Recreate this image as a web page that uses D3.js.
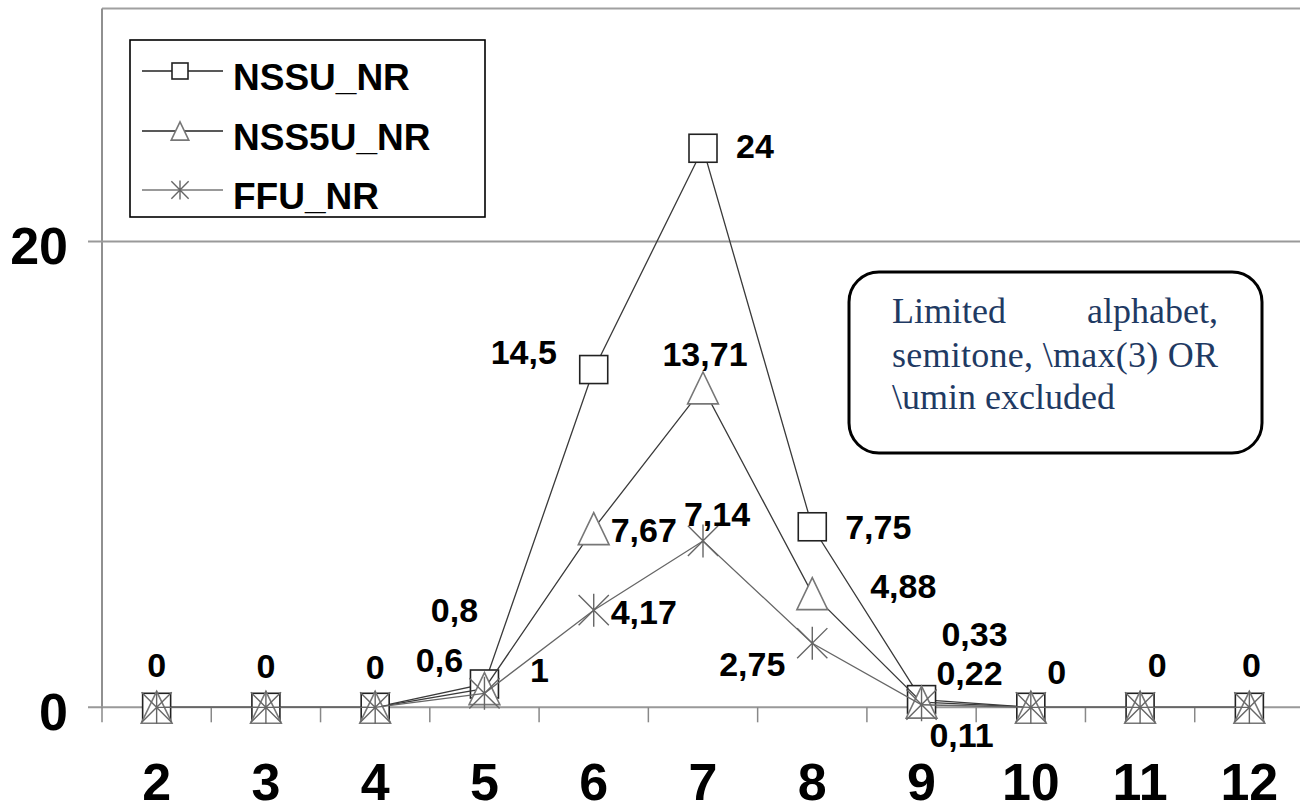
<!DOCTYPE html>
<html>
<head>
<meta charset="utf-8">
<script src="https://cdn.jsdelivr.net/npm/d3@7"></script>
<style>
  html, body { margin: 0; padding: 0; background: #fff; }
  svg { display: block; }
</style>
</head>
<body>
<svg id="chart" width="1300" height="812"></svg>
<script>
// ---- data ----
const categories = ["2", "3", "4", "5", "6", "7", "8", "9", "10", "11", "12"];
const nssu  = [0, 0, 0, 1,   14.5, 24,    7.75, 0.33, 0, 0, 0];
const nss5u = [0, 0, 0, 0.8, 7.67, 13.71, 4.88, 0.22, 0, 0, 0];
const ffu   = [0, 0, 0, 0.6, 4.17, 7.14,  2.75, 0.11, 0, 0, 0];
const seriesNames = ["NSSU_NR", "NSS5U_NR", "FFU_NR"];
const yTicks = [0, 20];
const noteLines = ["Limited", "alphabet,", "semitone, \\max(3) OR", "\\umin excluded"];

// label placement (pixel offsets from each point; null = no label)
const nssuLabelOffsets  = [[0,-42],[0,-41],[0,-40],[55,-14],[-70,-18],[52,-2],[66,0],[53,-66],[26,-35],[17,-42],[2,-42]];
const nss5uLabelOffsets = [null,null,null,[-30,-79],[50,1],[2,-34],[91,-8],[48,-29],null,null,null];
const ffuLabelOffsets   = [null,null,null,[-45,-33],[50,2],[14,-27],[-60,21],[40,30],null,null,null];

// ---- layout ----
const svg = d3.select("#chart");
const plotLeft = 102, plotRight = 1304, plotTop = 8.5, plotBottom = 707.3;

const x = d3.scaleBand().domain(categories).range([plotLeft, plotRight]).padding(0);
const y = d3.scaleLinear().domain([0, 30]).range([plotBottom, plotTop]);
const cx = c => x(c) + x.bandwidth() / 2;

const boldFont = "'Liberation Sans', Arial, sans-serif";

// plot border (top + left)
svg.append("line").attr("x1", plotLeft).attr("x2", 1300).attr("y1", plotTop).attr("y2", plotTop)
  .attr("stroke", "#a0a0a0").attr("stroke-width", 2);
svg.append("line").attr("x1", plotLeft).attr("x2", plotLeft).attr("y1", plotTop).attr("y2", plotBottom)
  .attr("stroke", "#909090").attr("stroke-width", 2);

// gridline at 20, x axis at 0, y tick labels
const yAxisG = svg.append("g");
yTicks.forEach(t => {
  yAxisG.append("line").attr("x1", 88).attr("x2", 1300)
    .attr("y1", y(t)).attr("y2", y(t))
    .attr("stroke", "#999").attr("stroke-width", 2);
  yAxisG.append("text").attr("x", 68).attr("y", y(t) + 23)
    .attr("text-anchor", "end")
    .attr("font-family", boldFont).attr("font-weight", "bold").attr("font-size", 52)
    .attr("fill", "#000").text(t);
});

// x axis ticks at band boundaries
categories.forEach(c => {
  const b = x(c);
  svg.append("line").attr("x1", b).attr("x2", b).attr("y1", plotBottom).attr("y2", plotBottom + 15)
    .attr("stroke", "#888").attr("stroke-width", 1.5);
});
categories.forEach(c => {
  svg.append("text").attr("x", cx(c)).attr("y", 800)
    .attr("text-anchor", "middle")
    .attr("font-family", boldFont).attr("font-weight", "bold").attr("font-size", 52)
    .attr("fill", "#000").text(c);
});

// ---- markers ----
function drawMarker(g, type, px, py, s) {
  if (type === "square") {
    g.append("rect").attr("x", px - s / 2).attr("y", py - s / 2).attr("width", s).attr("height", s)
      .attr("fill", "#fff").attr("stroke", "#222").attr("stroke-width", 1.6);
  } else if (type === "triangle") {
    const w = s * 1.1, h = s * 1.14;
    g.append("path").attr("d", `M${px},${py - h / 2} L${px + w / 2},${py + h / 2} L${px - w / 2},${py + h / 2} Z`)
      .attr("fill", "#fff").attr("stroke", "#777").attr("stroke-width", 1.6);
  } else {
    const a = s * 0.54, v = s * 0.59;
    g.append("path").attr("d", `M${px - a},${py - a} L${px + a},${py + a} M${px + a},${py - a} L${px - a},${py + a} M${px},${py - v} L${px},${py + v}`)
      .attr("fill", "none").attr("stroke", "#666").attr("stroke-width", 1.4);
  }
}

const series = [
  { name: seriesNames[0], values: nssu,  marker: "square",   line: "#3a3a3a", offsets: nssuLabelOffsets },
  { name: seriesNames[1], values: nss5u, marker: "triangle", line: "#3a3a3a", offsets: nss5uLabelOffsets },
  { name: seriesNames[2], values: ffu,   marker: "star",     line: "#666",    offsets: ffuLabelOffsets }
];

const lineGen = d3.line().x((d, i) => cx(categories[i])).y(d => y(d));

series.forEach(s => {
  const g = svg.append("g");
  g.append("path").datum(s.values).attr("d", lineGen)
    .attr("fill", "none").attr("stroke", s.line).attr("stroke-width", 1.3);
  s.values.forEach((v, i) => drawMarker(g, s.marker, cx(categories[i]), y(v), 28));
});

// data labels
series.forEach(s => {
  s.values.forEach((v, i) => {
    const off = s.offsets[i];
    if (!off) return;
    svg.append("text")
      .attr("x", cx(categories[i]) + off[0])
      .attr("y", y(v) + off[1] + 12)
      .attr("text-anchor", "middle")
      .attr("font-family", boldFont).attr("font-weight", "bold").attr("font-size", 34)
      .attr("fill", "#000")
      .text(String(v).replace(".", ","));
  });
});

// ---- legend ----
const lg = svg.append("g");
lg.append("rect").attr("x", 130).attr("y", 40).attr("width", 355).attr("height", 177)
  .attr("fill", "#fff").attr("stroke", "#000").attr("stroke-width", 1.6);
const legendY = [71, 131, 190];
series.forEach((s, i) => {
  lg.append("line").attr("x1", 142).attr("x2", 223).attr("y1", legendY[i]).attr("y2", legendY[i])
    .attr("stroke", i === 2 ? "#777" : "#222").attr("stroke-width", 1.5);
  drawMarker(lg, s.marker, 180, legendY[i], 16);
  lg.append("text").attr("x", 233).attr("y", legendY[i] + 19)
    .attr("font-family", boldFont).attr("font-weight", "bold").attr("font-size", 37)
    .attr("fill", "#000").text(s.name);
});

// ---- annotation box ----
const ag = svg.append("g");
ag.append("rect").attr("x", 849).attr("y", 272).attr("width", 413).attr("height", 181)
  .attr("rx", 30).attr("ry", 30)
  .attr("fill", "#fff").attr("stroke", "#000").attr("stroke-width", 3);
const noteFont = "'Liberation Serif', 'Times New Roman', serif";
const noteColor = "#1f3a63";
ag.append("text").attr("x", 892).attr("y", 323).attr("font-family", noteFont).attr("font-size", 36)
  .attr("fill", noteColor).text(noteLines[0]);
ag.append("text").attr("x", 1218).attr("y", 323).attr("text-anchor", "end").attr("font-family", noteFont).attr("font-size", 36)
  .attr("fill", noteColor).text(noteLines[1]);
ag.append("text").attr("x", 892).attr("y", 367).attr("font-family", noteFont).attr("font-size", 36)
  .attr("textLength", 326).attr("lengthAdjust", "spacing")
  .attr("fill", noteColor).text(noteLines[2]);
ag.append("text").attr("x", 892).attr("y", 409).attr("font-family", noteFont).attr("font-size", 36)
  .attr("fill", noteColor).text(noteLines[3]);
</script>
</body>
</html>
